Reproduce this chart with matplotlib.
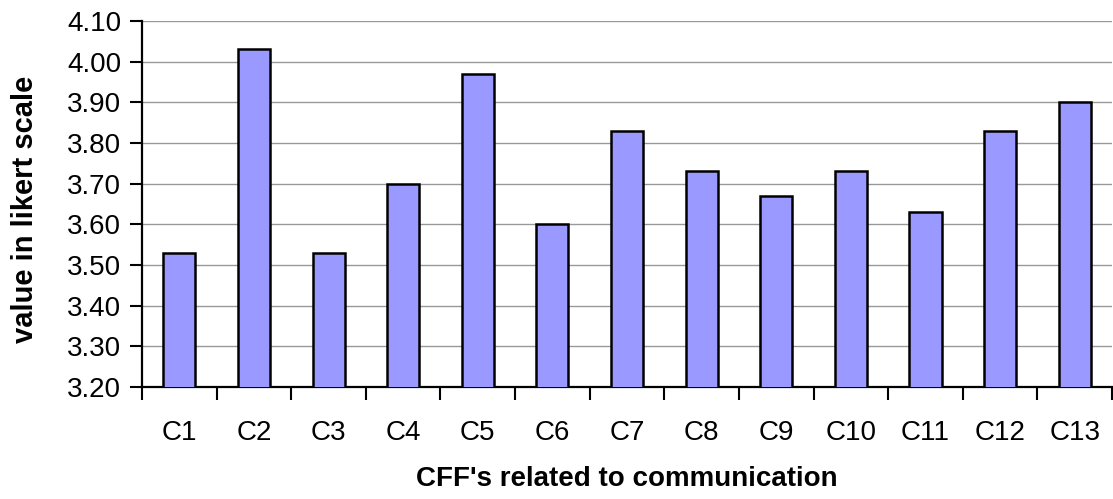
import numpy as np
import matplotlib
matplotlib.use("Agg")
from matplotlib import pyplot as plt

plt.rcParams['font.family'] = ['Liberation Sans', 'DejaVu Sans']

categories = ["C1", "C2", "C3", "C4", "C5", "C6", "C7", "C8", "C9", "C10", "C11", "C12", "C13"]
values = [3.53, 4.03, 3.53, 3.70, 3.97, 3.60, 3.83, 3.73, 3.67, 3.73, 3.63, 3.83, 3.90]
yticks = [3.20, 3.30, 3.40, 3.50, 3.60, 3.70, 3.80, 3.90, 4.00, 4.10]

fig = plt.figure(figsize=(11.13, 4.99), dpi=100)
ax = fig.add_axes([0.1276, 0.2244, 0.8715, 0.7336])

x = np.arange(len(categories))
ax.bar(x, values, width=0.43, color="#9999FF", edgecolor="black", linewidth=1.8, zorder=3)

ax.set_ylim(3.20, 4.10)
ax.set_xlim(-0.5, len(categories) - 0.5)
ax.set_yticks(yticks)
ax.set_yticklabels(["%.2f" % t for t in yticks])
ax.yaxis.grid(True, color="#999999", linewidth=1.0, zorder=0)
ax.set_axisbelow(True)

# category ticks sit between the bars
ax.set_xticks(np.arange(len(categories) + 1) - 0.5)
ax.set_xticklabels([])
ax.set_xticks(x, minor=True)
ax.set_xticklabels(categories, minor=True)
ax.tick_params(axis="x", which="minor", length=0, pad=24, labelsize=20)
ax.tick_params(axis="x", which="major", length=9, width=1.5, direction="out")
ax.tick_params(axis="y", length=9, width=1.5, direction="out", labelsize=20, pad=6)

for side in ["top", "right"]:
    ax.spines[side].set_visible(False)
ax.spines["left"].set_linewidth(1.6)
ax.spines["bottom"].set_linewidth(1.6)

ax.set_xlabel("CFF's related to communication", fontsize=20, fontweight="bold", labelpad=14)
ax.set_ylabel("value in likert scale", fontsize=21, fontweight="bold")
ax.yaxis.set_label_coords(-0.106, 0.485)

fig.savefig("out.png", dpi=100)
